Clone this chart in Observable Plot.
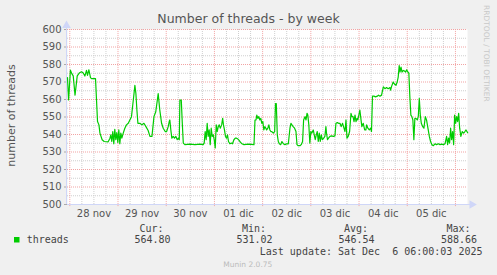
<!DOCTYPE html>
<html><head><meta charset="utf-8">
<script src="https://cdn.jsdelivr.net/npm/d3@7"></script>
<script src="https://cdn.jsdelivr.net/npm/@observablehq/plot@0.6"></script>
<style>
html,body{margin:0;padding:0;background:#F0F0F0;}
#chart{position:relative;width:497px;height:275px;background:#F0F0F0;overflow:hidden;}
#chart svg{position:absolute;left:0;top:0;}
</style></head><body><div id="chart"></div>
<script>
// hours since 2025-11-28 00:00 UTC
const hours = [
-1.15,-0.6,0.3,1.0,1.7,2.6,3.7,4.7,5.8,6.7,7.5,8.3,8.8,9.5,10.3,10.8,12.8,13.8,14.5,15.0,16.1,17.1,19.1,20.0,20.4,20.9,21.4,21.9,22.4,22.9,23.4,23.9,24.4,24.9,25.4,25.9,26.6,27.4,28.2,29.1,29.9,30.7,31.6,32.4,32.9,33.4,33.9,34.9,35.9,36.9,37.9,39.0,39.9,40.9,41.9,42.8,44.0,44.8,45.7,46.5,47.5,
48.2,49.0,49.5,49.8,50.3,50.8,51.5,52.1,52.8,53.5,54.1,54.5,54.8,55.5,56.0,56.5,57.3,59.8,62.3,64.8,66.4,66.9,67.4,67.9,68.4,68.9,69.4,69.9,70.4,70.9,71.4,71.9,72.4,72.9,73.4,73.9,74.4,74.9,75.6,76.1,76.5,77.0,77.5,78.0,78.5,79.0,79.7,80.4,81.0,81.7,82.4,83.0,83.7,84.3,85.0,85.7,86.7,88.8,91.7,92.2,92.7,93.1,93.6,94.1,94.6,95.1,95.6,96.1,96.6,97.1,97.6,
98.0,98.6,99.1,99.6,100.1,100.6,101.3,102.0,102.4,102.8,103.3,103.8,104.3,105.0,105.6,106.3,107.1,108.0,108.8,109.6,110.1,110.6,111.2,111.9,112.6,113.1,113.7,114.6,115.2,115.9,116.4,117.1,117.6,118.1,118.5,119.0,119.5,120.0,120.5,121.2,121.7,122.2,122.7,123.2,123.7,124.2,124.7,125.2,125.7,126.4,127.0,127.5,127.8,128.3,128.8,129.5,130.3,131.2,132.0,132.5,133.2,133.8,134.5,135.1,135.8,136.5,137.0,137.5,138.0,138.6,139.3,140.0,140.5,141.0,141.5,142.0,142.5,143.0,143.4,143.9,144.4,144.9,145.4,146.1,146.8,147.4,
147.8,148.4,149.1,149.8,150.2,150.7,151.4,152.2,153.1,153.7,154.4,155.2,156.1,156.9,157.7,158.5,159.4,159.7,160.2,161.0,161.7,162.4,163.0,163.5,164.0,164.4,164.9,165.4,166.0,166.7,167.2,167.7,168.3,168.8,169.3,169.8,170.3,170.8,171.3,171.8,172.3,173.0,173.5,174.0,174.5,175.0,175.7,176.3,177.0,177.6,178.3,179.0,179.6,180.3,181.0,181.8,182.6,183.5,184.3,185.1,186.0,186.8,187.6,188.1,188.6,189.1,189.6,190.1,190.6,191.1,191.6,192.1,192.6,193.1,193.6,194.1,194.7,195.4,196.1,196.7,197.2,198.1
];
const threads = [
572.5,559.8,576.8,574.8,573.5,562.5,573.5,575.1,575.8,575.1,573.4,576.6,573.8,577.0,572.5,571.9,571.9,547.4,545.5,540.8,537.0,536.0,535.8,537.9,539.8,536.0,541.7,534.7,543.0,537.0,541.1,535.5,542.6,534.7,540.8,537.9,540.8,543.6,545.5,546.4,548.3,550.2,559.6,568.1,563.4,554.0,546.4,546.4,545.5,546.4,544.5,542.3,538.9,538.9,550.2,553.0,563.4,554.0,546.4,543.6,541.7,
541.7,544.5,547.4,548.3,542.6,537.9,538.9,537.9,538.9,537.0,537.9,537.0,559.6,559.6,546.4,535.1,534.2,534.5,534.2,534.5,534.2,535.1,541.7,537.0,546.4,538.9,542.6,534.2,543.6,538.9,539.8,537.0,532.3,545.5,541.7,544.5,545.5,543.6,545.5,549.2,545.5,542.6,538.9,537.9,539.8,536.0,534.7,535.1,534.7,537.0,537.9,537.9,537.4,536.6,535.5,534.7,534.2,534.5,534.2,548.3,548.3,551.1,549.2,550.2,548.3,549.2,546.4,547.4,542.6,544.5,543.6,
542.6,543.6,545.5,542.6,541.7,541.7,540.8,541.7,557.7,557.7,539.8,536.0,534.7,534.2,536.0,534.7,534.2,534.7,534.7,543.6,546.4,545.5,544.5,543.6,541.7,534.2,533.6,533.6,534.2,536.0,548.3,550.2,548.3,552.1,551.1,545.5,535.1,541.7,540.8,542.6,539.8,537.0,539.8,541.7,536.0,540.8,536.0,539.8,537.0,537.9,538.9,544.5,540.8,537.0,537.9,538.9,539.2,538.9,539.2,546.4,546.8,546.4,546.4,544.5,546.4,543.6,541.7,548.3,537.9,538.9,541.7,552.1,550.2,550.2,547.4,551.1,547.4,549.2,548.3,551.1,554.0,549.2,544.5,546.4,542.6,542.6,
545.5,543.6,542.6,543.6,541.7,561.9,561.9,561.5,561.9,562.5,561.9,562.5,567.2,566.2,566.8,566.2,566.8,565.3,567.5,570.0,568.7,568.1,570.0,572.8,579.4,575.7,578.5,575.7,576.6,576.2,575.7,577.0,575.7,575.1,561.5,551.1,550.2,548.3,537.0,549.2,549.2,548.3,550.2,560.6,551.1,546.4,544.5,543.6,550.2,548.3,543.6,538.9,536.0,534.2,533.6,534.7,534.2,534.7,534.2,534.5,534.2,534.7,538.9,534.2,537.9,535.1,543.6,537.0,541.7,534.2,551.1,546.4,550.2,547.4,552.1,543.6,538.9,541.7,540.8,541.7,542.6,541.0
];
const yTicks = [500,510,520,530,540,550,560,570,580,590,600];
const yMinor = [505,515,525,535,545,555,565,575,585,595];
const dayStarts = ["2025-11-28","2025-11-29","2025-11-30","2025-12-01","2025-12-02","2025-12-03","2025-12-04","2025-12-05","2025-12-06"];
const dayLabels = ["28 nov","29 nov","30 nov","01 dic","02 dic","03 dic","04 dic","05 dic"];
const legendHeads = ["Cur:","Min:","Avg:","Max:"];
const legendValues = ["564.80","531.02","546.54","588.66"];
const seriesName = "threads";
const titleText = "Number of threads - by week";
const yLabel = "number of threads";
const lastUpdate = "Last update: Sat Dec  6 06:00:03 2025";
const watermark = "RRDTOOL / TOBI OETIKER";
const credit = "Munin 2.0.75";

const base = Date.UTC(2025,10,28);
const data = hours.map((h,i)=>({t:new Date(base + h*3600e3), v:threads[i]}));
const start = new Date(Date.UTC(2025,10,27,22,51));
const end = new Date(Date.UTC(2025,11,6,6,0));
const midnights = dayStarts.map(d=>new Date(d+"T00:00:00Z"));
const noons = dayLabels.map((l,i)=>new Date(dayStarts[i]+"T12:00:00Z"));
const labelMap = new Map(noons.map((d,i)=>[+d, dayLabels[i]]));
const minorX = d3.utcHour.every(6).range(start, end).filter(d=>d.getUTCHours()!==0);
const arrowX = new Date(+end + 2.2*3600e3);
const axisEnd = new Date(+end + 1.5*3600e3);
const axisCol = "#CFD6F8";
const minorCol = "#cfcfcf";
const majorCol = "#f2a3a3";

const plot = Plot.plot({
  width:497, height:275, marginLeft:67, marginRight:30, marginTop:29, marginBottom:71,
  style:{fontFamily:"DejaVu Sans", fontSize:"10px", color:"#555", background:"transparent", overflow:"visible"},
  x:{type:"utc", domain:[start,end]},
  y:{domain:[500,600]},
  marks:[
    Plot.frame({fill:"white", stroke:"none"}),
    Plot.ruleY(yMinor,{stroke:minorCol, strokeDasharray:"1,1"}),
    Plot.ruleX(minorX,{stroke:minorCol, strokeDasharray:"1,1"}),
    Plot.ruleY(yTicks.filter(v=>v>500),{stroke:majorCol, strokeDasharray:"1,1"}),
    Plot.ruleX(midnights,{y1:498.8, y2:600, stroke:majorCol, strokeDasharray:"1,1"}),
    Plot.axisY({ticks:yTicks, tickSize:3, tickPadding:3, stroke:"#aaa", label:null, tickFormat:d=>String(d)}),
    Plot.axisX({ticks:noons, tickSize:0, tickPadding:5, label:null, tickFormat:d=>labelMap.get(+d)}),
    Plot.ruleX([start],{y1:500, y2:603.5, stroke:axisCol, dx:-1}),
    Plot.ruleY([500],{x1:start, x2:axisEnd, stroke:axisCol}),
    Plot.dot([{x:start, y:602.3}],{x:"x", y:"y", symbol:"triangle", r:3.2, fill:axisCol, stroke:"none", dx:-1}),
    Plot.dot([{x:arrowX, y:500}],{x:"x", y:"y", symbol:"triangle", r:3.2, fill:axisCol, stroke:"none", rotate:90}),
    Plot.line(data,{x:"t", y:"v", stroke:"#00CC00", strokeWidth:1.2})
  ]
});
const chart = document.getElementById("chart");
chart.appendChild(plot);

// overlay texts
const svg = d3.select(chart).append("svg").attr("width",497).attr("height",275)
  .style("pointer-events","none");
svg.append("text").attr("x",248.5).attr("y",22.5).attr("text-anchor","middle")
  .attr("font-family","DejaVu Sans").attr("font-size",12.5).attr("fill","#555").text(titleText);
svg.append("text").attr("transform","translate(15,115.5) rotate(-90)").attr("text-anchor","middle")
  .attr("font-family","DejaVu Sans").attr("font-size",11).attr("fill","#555").text(yLabel);
svg.append("text").attr("transform","translate(484,5) rotate(90)").attr("text-anchor","start")
  .attr("font-family","DejaVu Sans").attr("font-size",7.5).attr("fill","#c8c8c8").text(watermark);
svg.append("rect").attr("x",14).attr("y",237).attr("width",5.5).attr("height",5.5).attr("fill","#00CC00");
const mono = {"font-family":"DejaVu Sans Mono","font-size":10,"fill":"#444"};
function t(x,y,anchor,str,attrs){
  const e = svg.append("text").attr("x",x).attr("y",y).attr("text-anchor",anchor).style("white-space","pre").text(str);
  Object.entries(attrs).forEach(([k,v])=>e.attr(k,v));
  return e;
}
t(26.7,243.3,"start",seriesName,mono);
const headRight = [163.5,266,368,470.5];
const valRight = [170.5,272.5,374.5,477];
legendHeads.forEach((h,i)=>t(headRight[i],231.5,"end",h,mono));
legendValues.forEach((v,i)=>t(valRight[i],243.3,"end",v,mono));
t(482.5,255,"end",lastUpdate,mono);
t(247.8,266.5,"middle",credit,{"font-family":"DejaVu Sans","font-size":7.5,"fill":"#bbb"});
</script></body></html>
